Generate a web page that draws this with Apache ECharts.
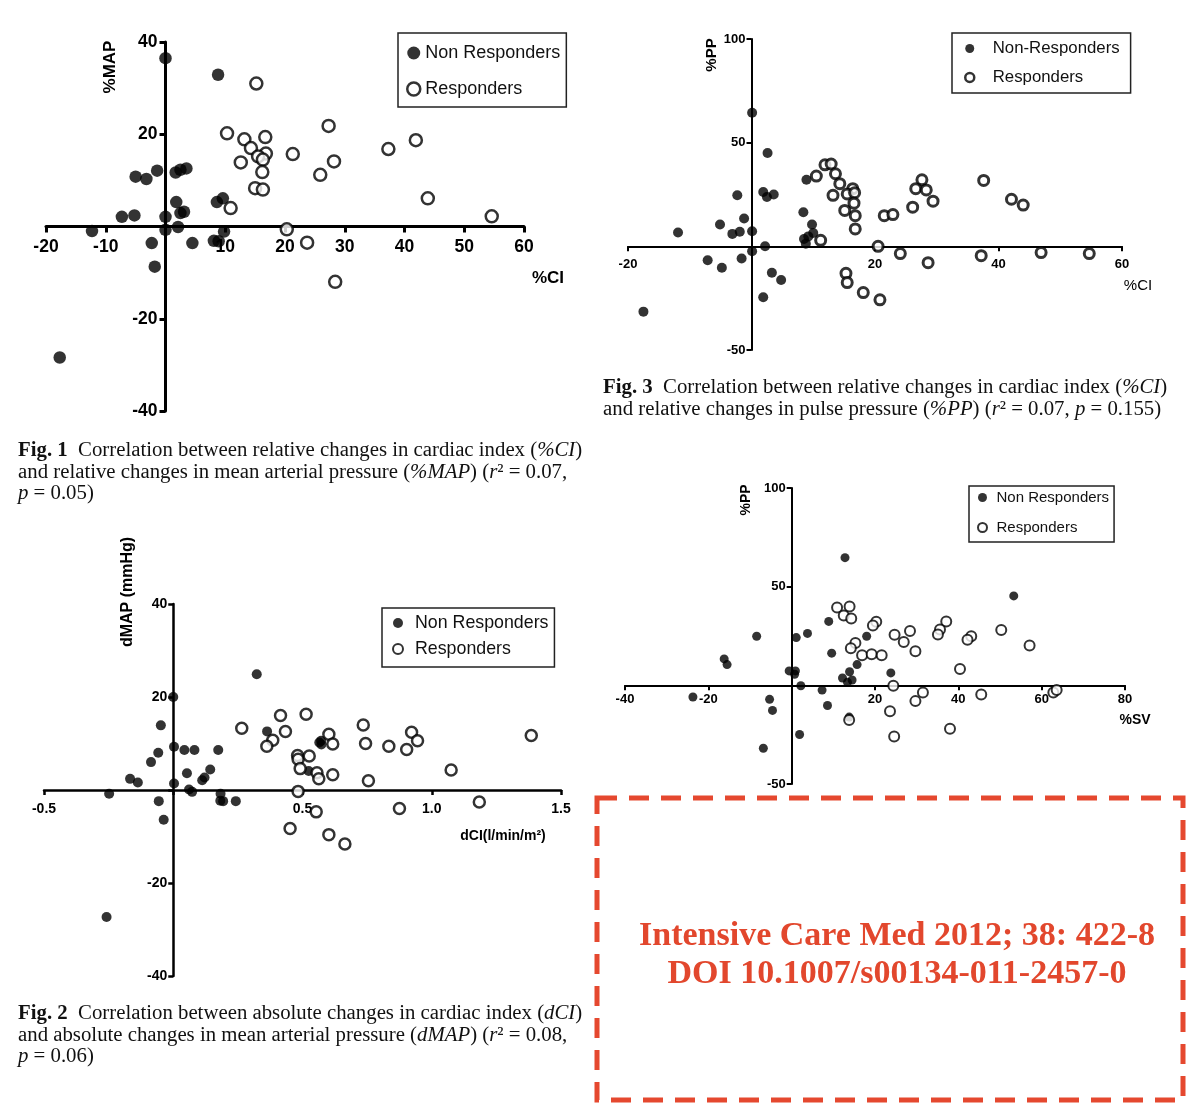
<!DOCTYPE html>
<html><head><meta charset="utf-8">
<script src="https://cdn.jsdelivr.net/npm/echarts@6/dist/echarts.min.js"></script>
<style>html,body{margin:0;padding:0;background:#fff}#c{width:1200px;height:1109px}</style>
</head><body><div id="c"></div>
<script>
// ---------- DATA ----------
// Fig 1: %CI vs %MAP
const fig1NonResponders = [[0,36.5],[8.8,32.9],[-5.0,10.8],[-3.2,10.3],[-1.4,12.1],[1.7,11.7],[2.5,12.3],[3.5,12.6],[1.8,5.3],[8.6,5.3],[9.6,6.1],[-7.3,2.1],[-5.2,2.4],[0,2.1],[2.5,2.9],[3.1,3.2],[0,-0.7],[2.1,-0.1],[-12.3,-1.0],[-2.3,-3.6],[4.5,-3.6],[8.1,-3.1],[8.9,-3.2],[9.8,-1.1],[-1.8,-8.7],[-17.7,-28.4]];
const fig1Responders = [[15.2,31.0],[10.3,20.2],[27.3,21.8],[41.9,18.7],[13.2,18.9],[16.7,19.4],[14.3,17.0],[37.3,16.8],[21.3,15.7],[16.8,15.8],[15.5,15.2],[16.3,14.5],[12.6,13.9],[28.2,14.1],[16.2,11.8],[25.9,11.2],[15.0,8.3],[16.3,8.0],[43.9,6.1],[10.9,4.0],[54.6,2.2],[20.3,-0.6],[23.7,-3.5],[28.4,-12.0]];
// Fig 3: %CI vs %PP
const fig3NonResponders = [[0.1,64.4],[2.6,45.0],[8.9,32.1],[-2.3,24.6],[1.9,26.2],[2.5,23.8],[3.6,25.0],[8.4,16.4],[-5.1,10.5],[-1.2,13.4],[9.8,10.5],[-11.9,6.7],[-3.1,6.0],[-1.9,7.0],[0.1,7.3],[10.0,6.4],[9.2,4.8],[8.5,3.5],[8.8,1.3],[2.2,0],[0.1,-2.4],[-7.1,-6.7],[-4.8,-10.3],[-1.6,-5.9],[3.3,-12.7],[4.8,-16.2],[1.9,-24.6],[-17.5,-31.5]];
const fig3Responders = [[10.5,33.9],[11.9,39.3],[12.9,39.7],[13.6,35.0],[14.3,30.2],[13.2,24.6],[16.4,27.8],[15.5,25.3],[16.7,25.9],[16.6,20.8],[15.1,17.3],[16.8,14.8],[16.8,8.4],[11.2,2.9],[27.6,32.1],[26.6,27.8],[28.3,27.2],[29.4,21.8],[26.1,18.9],[21.5,14.8],[22.9,15.3],[37.6,31.8],[42.1,22.7],[44.0,19.9],[20.5,0],[24.1,-3.5],[28.6,-7.9],[37.2,-4.5],[46.9,-3.0],[54.7,-3.5],[15.3,-13.0],[15.5,-17.5],[18.1,-22.3],[20.8,-25.8]];
// Fig 2: dCI vs dMAP
const fig2NonResponders = [[0.323,24.9],[0,20.0],[-0.048,13.9],[0.003,9.3],[0.043,8.6],[0.082,8.6],[0.174,8.6],[-0.058,8.0],[-0.086,6.0],[0.363,12.6],[0.572,10.6],[0.573,9.8],[0.565,10.2],[0.053,3.6],[0.143,4.4],[0.121,2.7],[0.112,2.1],[-0.167,2.4],[-0.137,1.6],[0.003,1.4],[0.061,0.1],[0.073,-0.4],[-0.248,-0.8],[0.183,-0.8],[0.182,-2.3],[0.193,-2.4],[0.242,-2.4],[-0.056,-2.4],[-0.037,-6.4],[0.524,4.1],[-0.258,-27.3]];
const fig2Responders = [[0.265,13.3],[0.415,16.0],[0.514,16.3],[0.434,12.6],[0.385,10.7],[0.362,9.4],[0.735,14.0],[0.602,12.0],[0.617,9.9],[0.744,10.0],[0.834,9.4],[0.922,12.4],[0.945,10.6],[0.903,8.7],[1.385,11.7],[0.481,7.4],[0.483,6.6],[0.526,7.3],[0.491,4.6],[0.556,3.7],[0.617,3.3],[0.563,2.4],[0.755,2.0],[1.075,4.3],[0.483,-0.3],[0.553,-4.7],[0.875,-4.0],[1.184,-2.6],[0.452,-8.3],[0.602,-9.6],[0.664,-11.6]];
// Fig 4: %SV vs %PP
const fig4NonResponders = [[12.8,64.7],[53.3,45.3],[8.9,32.4],[-8.4,24.9],[1.1,24.2],[3.8,26.3],[18.0,24.9],[9.6,16.3],[-16.2,13.4],[-15.5,10.5],[15.7,10.5],[-0.6,7.3],[0.9,7.3],[0.7,5.6],[13.9,6.9],[23.8,6.3],[12.2,3.7],[14.5,2.7],[13.4,1.5],[2.2,-0.2],[7.3,-2.4],[-23.7,-5.9],[-5.3,-7.1],[8.6,-10.2],[-4.6,-12.7],[13.8,-16.1],[1.9,-24.9],[-6.8,-31.9]];
const fig4Responders = [[10.9,39.5],[13.9,40.0],[12.5,35.4],[14.3,33.9],[20.3,32.2],[19.5,30.3],[28.4,27.5],[24.7,25.6],[26.9,21.9],[15.3,21.4],[14.2,18.8],[29.7,17.3],[16.9,15.3],[19.2,15.8],[21.6,15.3],[37.1,32.4],[35.6,28.3],[35.1,25.8],[43.1,24.9],[42.2,23.1],[50.3,28.0],[57.1,20.2],[40.4,8.3],[24.4,-0.2],[31.5,-3.6],[29.7,-8.0],[45.5,-4.6],[62.8,-3.6],[63.6,-2.4],[23.6,-13.1],[13.8,-17.6],[38.0,-22.0],[24.6,-25.9]];

const legendNames = ['Non Responders', 'Responders'];
const legendNames3 = ['Non-Responders', 'Responders'];

// ---------- STYLE HELPERS ----------
const SANS = 'Liberation Sans, Arial, Helvetica, sans-serif';
const SERIF = 'Liberation Serif, Times New Roman, serif';

const grids = [
  { left: 46, top: 42, width: 478, height: 369 },   // Fig 1
  { left: 628, top: 39, width: 494, height: 311 },  // Fig 3
  { left: 44, top: 604, width: 517, height: 372 },  // Fig 2
  { left: 625, top: 488, width: 500, height: 296 }  // Fig 4
];
const ranges = [
  { x: [-20, 60, 10], y: [-40, 40, 20] },
  { x: [-20, 60, 20], y: [-50, 100, 50] },
  { x: [-0.5, 1.5, 0.5], y: [-40, 40, 20] },
  { x: [-40, 80, 20], y: [-50, 100, 50] }
];

function hideZero(fmt) { return v => (Math.abs(v) < 1e-9 ? '' : fmt(v)); }
// axes cross at the origin: shift each axis from the grid edge to the zero line
function axis(gi, isY, o) {
  const r = isY ? ranges[gi].y : ranges[gi].x;
  const other = isY ? ranges[gi].x : ranges[gi].y;
  const g = grids[gi];
  const span = isY ? g.width : g.height;
  const off = -span * (0 - other[0]) / (other[1] - other[0]);
  const fmt = (isY ? o.yfmt : o.xfmt) || (v => String(v));
  return {
    type: 'value', gridIndex: gi, min: r[0], max: r[1], interval: r[2],
    position: isY ? 'left' : 'bottom', offset: off,
    splitLine: { show: false },
    axisLine: { show: true, onZero: false, lineStyle: { color: '#000', width: o.lw } },
    axisTick: { show: true, length: o.tl, lineStyle: { color: '#000', width: o.tw } },
    axisLabel: {
      show: true, margin: isY ? o.ym : o.xm, color: '#000', fontFamily: SANS,
      fontWeight: 'bold', fontSize: o.fs,
      formatter: hideZero(fmt)
    }
  };
}
function scatter(name, data, gi, filled, size, bw) {
  return {
    type: 'scatter', name, data, xAxisIndex: gi, yAxisIndex: gi,
    symbol: 'circle', symbolSize: size,
    itemStyle: filled ? { color: '#000', borderColor: '#000', borderWidth: 0 }
                      : { color: '#fff', borderColor: '#000', borderWidth: bw },
    emphasis: { disabled: true }, animation: false
  };
}
function legend(cfg) {
  return Object.assign({
    orient: 'vertical', symbolKeepAspect: true, selectedMode: false,
    borderColor: '#222', borderWidth: 1.5, borderRadius: 0, backgroundColor: '#fff',
    textStyle: { fontFamily: SANS, color: '#111', fontSize: cfg.fs }
  }, cfg);
}
function label(text, x, y, fs, rot, weight) {
  return {
    type: 'text', x, y, rotation: rot ? Math.PI / 2 : 0, z: 100,
    style: { text, fill: '#000', fontFamily: SANS, fontSize: fs, fontWeight: weight || 'bold',
             textAlign: 'center', textVerticalAlign: 'middle', align: 'center', verticalAlign: 'middle' }
  };
}
function caption(text, x, y) {
  const fs = 20.8, lh = 21.5;
  return {
    type: 'text', x, y, z: 100,
    style: {
      text, fill: '#111', fontFamily: SERIF, fontSize: fs, lineHeight: lh,
      textAlign: 'left', textVerticalAlign: 'top', align: 'left', verticalAlign: 'top',
      rich: {
        b: { fontFamily: SERIF, fontSize: fs, fontWeight: 'bold', lineHeight: lh, fill: '#111' },
        i: { fontFamily: SERIF, fontSize: fs, fontStyle: 'italic', lineHeight: lh, fill: '#111' }
      }
    }
  };
}

const s1 = { lw: 3, tl: 6, tw: 3, fs: 17.5, xm: 12, ym: 8 };
const s3 = { lw: 2, tl: 5, tw: 2, fs: 13, xm: 12, ym: 6 };
const s2 = { lw: 2.5, tl: 5, tw: 2.5, fs: 14, xm: 12, ym: 6, xfmt: v => v.toFixed(1) };
const s4 = { lw: 2, tl: 5, tw: 2, fs: 13, xm: 8, ym: 6 };

const option = {
  backgroundColor: '#fff',
  animation: false,
  grid: grids,
  xAxis: [axis(0, false, s1), axis(1, false, s3), axis(2, false, s2), axis(3, false, s4)],
  yAxis: [axis(0, true, s1), axis(1, true, s3), axis(2, true, s2), axis(3, true, s4)],
  legend: [
    legend({ left: 398, top: 33, padding: [11, 6, 9, 8], itemGap: 18, itemWidth: 13, itemHeight: 13, fs: 18,
             data: [{ name: legendNames[0] }, { name: legendNames[1], itemStyle: { borderWidth: 2.5 } }] }),
    legend({ left: 952, top: 33, padding: [7, 11, 7, 12], itemGap: 12, itemWidth: 36, itemHeight: 9, fs: 16.8,
             data: [{ name: legendNames3[0] }, { name: legendNames3[1], itemStyle: { borderWidth: 2.5 } }] }),
    legend({ left: 382, top: 608, padding: [6, 6, 9, 10], itemGap: 8, itemWidth: 24, itemHeight: 10, fs: 17.8,
             data: [{ name: legendNames[0] }, { name: legendNames[1], itemStyle: { borderWidth: 2 } }] }),
    legend({ left: 969, top: 486, padding: [4, 5, 7, 8], itemGap: 15, itemWidth: 18, itemHeight: 9, fs: 15,
             data: [{ name: legendNames[0] }, { name: legendNames[1], itemStyle: { borderWidth: 2 } }] })
  ],
  series: [
    scatter(legendNames[0], fig1NonResponders, 0, true, 12.5),
    scatter(legendNames[1], fig1Responders, 0, false, 12, 2.5),
    scatter(legendNames3[0], fig3NonResponders, 1, true, 10),
    scatter(legendNames3[1], fig3Responders, 1, false, 10, 3),
    scatter(legendNames[0], fig2NonResponders, 2, true, 10),
    scatter(legendNames[1], fig2Responders, 2, false, 11, 2.5),
    scatter(legendNames[0], fig4NonResponders, 3, true, 9),
    scatter(legendNames[1], fig4Responders, 3, false, 10, 2)
  ],
  graphic: [
    label('%MAP', 110, 67, 17, true),
    label('%CI', 548, 278, 17, false),
    label('%PP', 712, 55, 15, true),
    label('%CI', 1138, 286, 15, false, 'normal'),
    label('dMAP (mmHg)', 128, 592, 16, true),
    label('dCI(l/min/m²)', 503, 836, 14, false),
    label('%PP', 746, 500, 14, true),
    label('%SV', 1135, 720, 14, false),
    caption('{b|Fig. 1}  Correlation between relative changes in cardiac index ({i|%CI})\nand relative changes in mean arterial pressure ({i|%MAP}) ({i|r}² = 0.07,\n{i|p} = 0.05)', 18, 440),
    caption('{b|Fig. 3}  Correlation between relative changes in cardiac index ({i|%CI})\nand relative changes in pulse pressure ({i|%PP}) ({i|r}² = 0.07, {i|p} = 0.155)', 603, 377),
    caption('{b|Fig. 2}  Correlation between absolute changes in cardiac index ({i|dCI})\nand absolute changes in mean arterial pressure ({i|dMAP}) ({i|r}² = 0.08,\n{i|p} = 0.06)', 18, 1003),
    {
      type: 'rect', z: 90,
      shape: { x: 597, y: 798, width: 586, height: 302 },
      style: { fill: 'rgba(0,0,0,0)', stroke: '#e5482f', lineWidth: 5, lineDash: [20, 12] }
    },
    {
      type: 'text', x: 897, y: 955, z: 100,
      style: {
        text: 'Intensive Care Med 2012; 38: 422-8\nDOI 10.1007/s00134-011-2457-0',
        fill: '#e2472d', fontFamily: SERIF, fontSize: 34, fontWeight: 'bold', lineHeight: 38,
        textAlign: 'center', textVerticalAlign: 'middle', align: 'center', verticalAlign: 'middle'
      }
    }
  ]
};

const chart = echarts.init(document.getElementById('c'), null, { renderer: 'canvas' });
chart.setOption(option);
</script>
</body></html>
